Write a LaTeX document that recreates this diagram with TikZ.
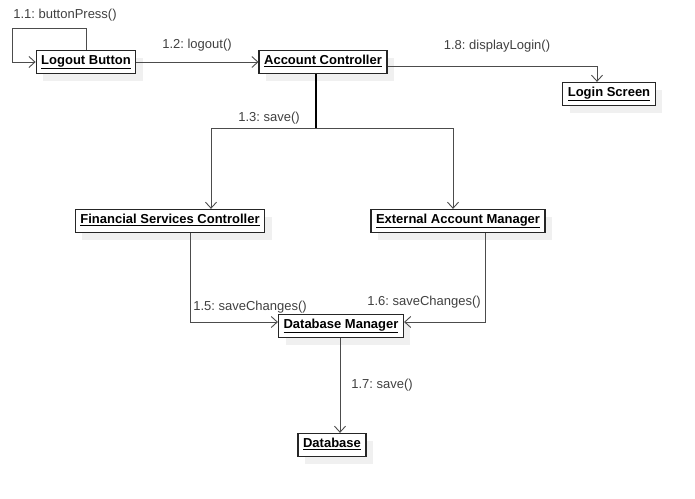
\documentclass[tikz,border=0pt]{standalone}
\usepackage{fontspec}
\setmainfont{Liberation Sans}
\usetikzlibrary{arrows.meta,shadows}
\frenchspacing

\begin{document}
\begin{tikzpicture}[x=1pt, y=-1pt, every node/.style={font=\fontsize{13}{15}\selectfont}]
        \tikzset{
            obj/.style={draw=black!85,line width=1.3pt,fill=white,inner xsep=5pt,inner ysep=4pt,
                text height=10pt,text depth=5pt,
                font=\fontsize{13}{15}\selectfont\bfseries,
                drop shadow={shadow xshift=7pt,shadow yshift=-7pt,fill=black!6,opacity=1}},
            msg/.style={draw=black!70,line width=0.9pt,-{Straight Barb[length=6pt,width=11pt]}},
            lbl/.style={text=black!75}
        }
        \useasboundingbox (0,0) rectangle (695,498);
        \node[obj] (logout) at (86,62) {\underline{Logout Button}};
        \node[obj] (acct) at (323,62) {\underline{Account Controller}};
        \node[obj] (login) at (609,94) {\underline{Login Screen}};
        \node[obj] (fsc) at (170,221) {\underline{Financial Services Controller}};
        \node[obj] (eam) at (458,221) {\underline{External Account Manager}};
        \node[obj] (dbm) at (341,326) {\underline{Database Manager}};
        \node[obj] (db) at (332,445) {\underline{Database}};
        \coordinate (loop) at (12,28);
        \coordinate (split) at (316,128);
        \draw[msg] (logout.north) |- (loop) |- (logout.west);
        \draw[msg] (logout) -- (acct);
        \draw[msg] ([yshift=-4pt]acct.east) -| ([xshift=-12pt]login.north);
        \draw[line width=1.5pt] ([xshift=-7pt]acct.south) -- (split);
        \draw[msg] (split) -| ([xshift=41pt]fsc.north);
        \draw[msg] (split) -| ([xshift=-5pt]eam.north);
        \draw[msg] ([xshift=20pt]fsc.south) |- ([yshift=4pt]dbm.west);
        \draw[msg] ([xshift=27pt]eam.south) |- ([yshift=4pt]dbm.east);
        \draw[msg] ([xshift=-1pt]dbm.south) -- ([xshift=-1pt]dbm.south |- db.north);
        \node[lbl] (l11) at (65,15) {1.1: buttonPress()};
        \node[lbl] (l12) at (197,45) {1.2: logout()};
        \node[lbl] (l18) at (497,46) {1.8: displayLogin()};
        \node[lbl] (l13) at (269,118) {1.3: save()};
        \node[lbl] (l15) at (250,307) {1.5: saveChanges()};
        \node[lbl] (l16) at (424,302) {1.6: saveChanges()};
        \node[lbl] (l17) at (382,385) {1.7: save()};
    \end{tikzpicture}
\end{document}
